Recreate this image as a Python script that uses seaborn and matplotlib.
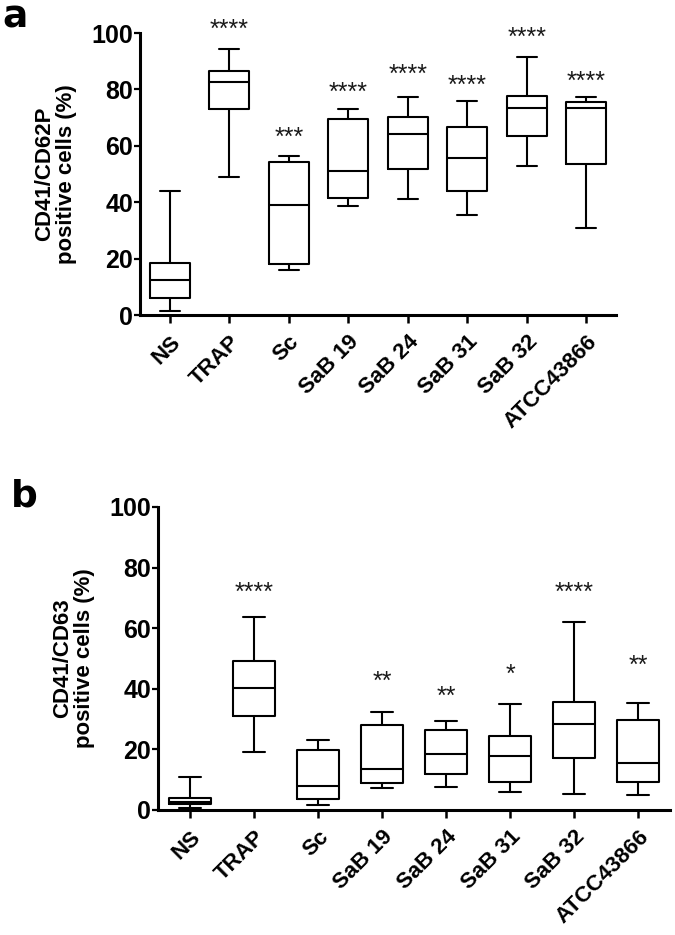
import matplotlib
matplotlib.use("Agg")
import matplotlib.pyplot as plt
import seaborn as sns
import pandas as pd

GROUPS = ["NS", "TRAP", "Sc", "SaB 19", "SaB 24", "SaB 31", "SaB 32", "ATCC43866"]

# panel a: CD41/CD62P, five-number summaries
A_MIN = [1.5, 49.1, 16.0, 38.7, 41.1, 35.5, 53.0, 30.7]
A_Q1 = [5.9, 72.9, 18.0, 41.4, 51.6, 44.1, 63.3, 53.6]
A_MED = [12.3, 82.7, 39.1, 51.1, 64.1, 55.5, 73.3, 73.4]
A_Q3 = [18.5, 86.4, 54.3, 69.5, 70.2, 66.6, 77.5, 75.4]
A_MAX = [44.1, 94.3, 56.4, 73.0, 77.3, 76.0, 91.6, 77.3]
A_STARS = ["", "****", "***", "****", "****", "****", "****", "****"]
A_STAR_Y = [0, 101.0, 62.7, 78.7, 85.0, 81.1, 98.2, 82.6]

# panel b: CD41/CD63
B_MIN = [0.6, 19.1, 1.7, 7.2, 7.7, 5.9, 5.4, 5.0]
B_Q1 = [1.9, 31.1, 3.5, 9.0, 11.9, 9.3, 17.1, 9.4]
B_MED = [2.8, 40.1, 8.0, 13.4, 18.4, 17.8, 28.3, 15.6]
B_Q3 = [4.1, 49.3, 19.9, 28.0, 26.4, 24.3, 35.7, 29.7]
B_MAX = [10.9, 63.7, 23.1, 32.2, 29.4, 35.0, 62.0, 35.2]
B_STARS = ["", "****", "", "**", "**", "*", "****", "**"]
B_STAR_Y = [0, 71.6, 0, 42.4, 37.4, 44.6, 71.6, 47.7]


def summary_frame(mins, q1s, meds, q3s, maxs):
    rows = []
    for g, vals in zip(GROUPS, zip(mins, q1s, meds, q3s, maxs)):
        for v in vals:
            rows.append({"group": g, "value": v})
    return pd.DataFrame(rows)


def draw_panel(ax, df, stars, star_y, ylabel):
    sns.boxplot(
        ax=ax, data=df, x="group", y="value", order=GROUPS,
        whis=(0, 100), width=0.67, fill=False, color="black",
        linewidth=1.5, showfliers=False,
    )
    for i, (s, y) in enumerate(zip(stars, star_y)):
        if s:
            ax.text(i, y, s, ha="center", va="center", fontsize=18,
                    color="#1a1a1a")
    ax.set_xlim(-0.5, 7.5)
    ax.set_ylim(0, 100)
    ax.set_yticks([0, 20, 40, 60, 80, 100])
    ax.set_xlabel("")
    ax.set_ylabel(ylabel, fontsize=16, fontweight="bold", labelpad=10,
                  linespacing=1.1)
    ax.tick_params(axis="y", length=4, width=1.6, pad=1, labelsize=18)
    ax.tick_params(axis="x", length=6, width=1.8, pad=6, labelsize=16)
    for lab in ax.get_yticklabels():
        lab.set_fontweight("bold")
    ax.set_xticks(range(len(GROUPS)))
    ax.set_xticklabels(GROUPS, rotation=45, ha="right", va="top",
                       rotation_mode="anchor", fontweight="bold")
    for sp in ["left", "bottom"]:
        ax.spines[sp].set_linewidth(2.2)
    sns.despine(ax=ax)
    return ax


sns.set_style("ticks", rc={
    "axes.edgecolor": "black",
    "axes.labelcolor": "black",
    "text.color": "black",
    "xtick.color": "black",
    "ytick.color": "black",
})
plt.rcParams["font.family"] = ["Liberation Sans", "DejaVu Sans"]

fig = plt.figure(figsize=(6.75, 9.35), dpi=100)
ax_a = fig.add_axes([0.2074, 0.6631, 0.7052, 0.3016])
ax_b = fig.add_axes([0.2341, 0.1337, 0.7585, 0.3241])

draw_panel(ax_a, summary_frame(A_MIN, A_Q1, A_MED, A_Q3, A_MAX),
           A_STARS, A_STAR_Y, "CD41/CD62P\npositive cells (%)")
draw_panel(ax_b, summary_frame(B_MIN, B_Q1, B_MED, B_Q3, B_MAX),
           B_STARS, B_STAR_Y, "CD41/CD63\npositive cells (%)")

fig.text(0.004, 0.981, "a", fontsize=27, fontweight="bold", va="center",
         family="DejaVu Sans")
fig.text(0.016, 0.469, "b", fontsize=27, fontweight="bold", va="center",
         family="DejaVu Sans")

fig.savefig("out.png", dpi=100)
